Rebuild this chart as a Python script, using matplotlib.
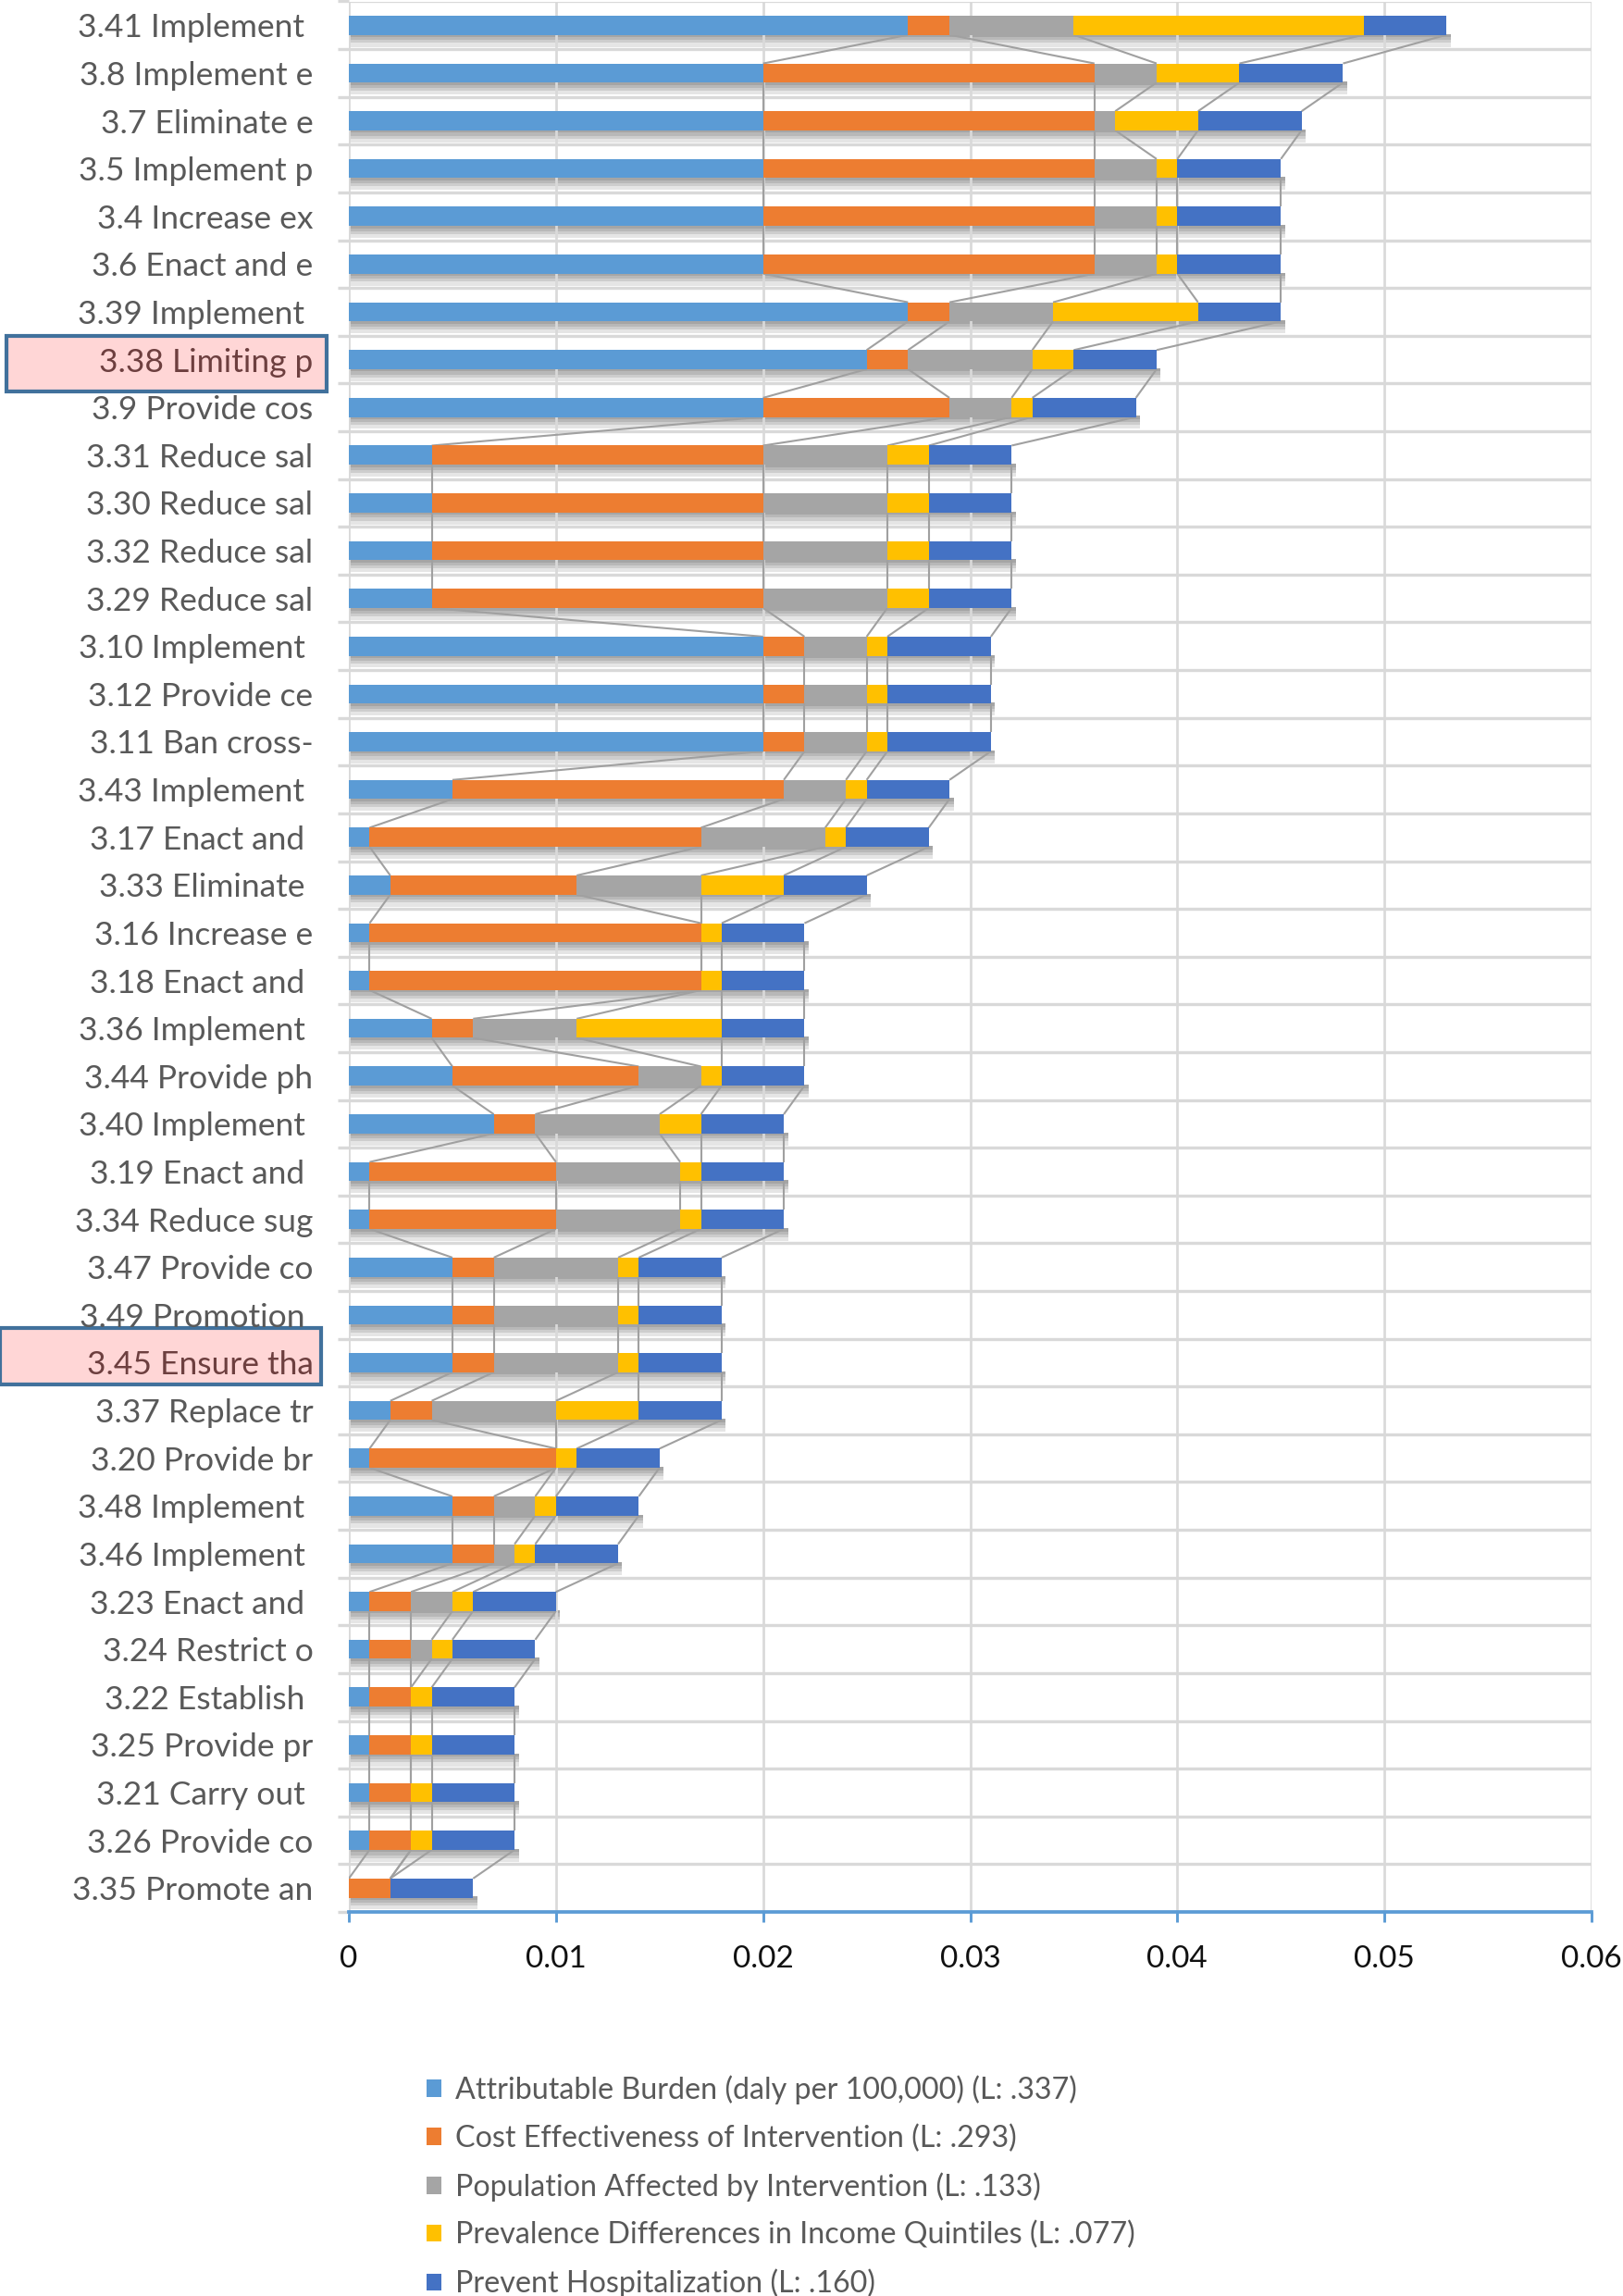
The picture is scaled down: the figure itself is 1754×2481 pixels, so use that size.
import matplotlib
matplotlib.use("Agg")
import matplotlib.pyplot as plt
import numpy as np
from matplotlib.collections import LineCollection
from matplotlib.patches import Rectangle
from matplotlib.transforms import blended_transform_factory

plt.rcParams["font.family"] = ["Lato", "DejaVu Sans"]

# intervention labels, top to bottom (truncated as in the source chart)
labels = [
    "3.41 Implement ", "3.8 Implement e", "3.7 Eliminate e", "3.5 Implement p",
    "3.4 Increase ex", "3.6 Enact and e", "3.39 Implement ", "3.38 Limiting p",
    "3.9 Provide cos", "3.31 Reduce sal", "3.30 Reduce sal", "3.32 Reduce sal",
    "3.29 Reduce sal", "3.10 Implement ", "3.12 Provide ce", "3.11 Ban cross-",
    "3.43 Implement ", "3.17 Enact and ", "3.33 Eliminate ", "3.16 Increase e",
    "3.18 Enact and ", "3.36 Implement ", "3.44 Provide ph", "3.40 Implement ",
    "3.19 Enact and ", "3.34 Reduce sug", "3.47 Provide co", "3.49 Promotion ",
    "3.45 Ensure tha", "3.37 Replace tr", "3.20 Provide br", "3.48 Implement ",
    "3.46 Implement ", "3.23 Enact and ", "3.24 Restrict o", "3.22 Establish ",
    "3.25 Provide pr", "3.21 Carry out ", "3.26 Provide co", "3.35 Promote an",
]

burden = [0.027, 0.020, 0.020, 0.020, 0.020, 0.020, 0.027, 0.025, 0.020, 0.004,
          0.004, 0.004, 0.004, 0.020, 0.020, 0.020, 0.005, 0.001, 0.002, 0.001,
          0.001, 0.004, 0.005, 0.007, 0.001, 0.001, 0.005, 0.005, 0.005, 0.002,
          0.001, 0.005, 0.005, 0.001, 0.001, 0.001, 0.001, 0.001, 0.001, 0.000]
cost = [0.002, 0.016, 0.016, 0.016, 0.016, 0.016, 0.002, 0.002, 0.009, 0.016,
        0.016, 0.016, 0.016, 0.002, 0.002, 0.002, 0.016, 0.016, 0.009, 0.016,
        0.016, 0.002, 0.009, 0.002, 0.009, 0.009, 0.002, 0.002, 0.002, 0.002,
        0.009, 0.002, 0.002, 0.002, 0.002, 0.002, 0.002, 0.002, 0.002, 0.002]
population = [0.006, 0.003, 0.001, 0.003, 0.003, 0.003, 0.005, 0.006, 0.003, 0.006,
              0.006, 0.006, 0.006, 0.003, 0.003, 0.003, 0.003, 0.006, 0.006, 0.000,
              0.000, 0.005, 0.003, 0.006, 0.006, 0.006, 0.006, 0.006, 0.006, 0.006,
              0.000, 0.002, 0.001, 0.002, 0.001, 0.000, 0.000, 0.000, 0.000, 0.000]
prevalence = [0.014, 0.004, 0.004, 0.001, 0.001, 0.001, 0.007, 0.002, 0.001, 0.002,
              0.002, 0.002, 0.002, 0.001, 0.001, 0.001, 0.001, 0.001, 0.004, 0.001,
              0.001, 0.007, 0.001, 0.002, 0.001, 0.001, 0.001, 0.001, 0.001, 0.004,
              0.001, 0.001, 0.001, 0.001, 0.001, 0.001, 0.001, 0.001, 0.001, 0.000]
hospital = [0.004, 0.005, 0.005, 0.005, 0.005, 0.005, 0.004, 0.004, 0.005, 0.004,
            0.004, 0.004, 0.004, 0.005, 0.005, 0.005, 0.004, 0.004, 0.004, 0.004,
            0.004, 0.004, 0.004, 0.004, 0.004, 0.004, 0.004, 0.004, 0.004, 0.004,
            0.004, 0.004, 0.004, 0.004, 0.004, 0.004, 0.004, 0.004, 0.004, 0.004]

series_names = [
    "Attributable Burden (daly per 100,000) (L: .337)",
    "Cost Effectiveness of Intervention (L: .293)",
    "Population Affected by Intervention (L: .133)",
    "Prevalence Differences in Income Quintiles (L: .077)",
    "Prevent Hospitalization (L: .160)",
]
colors = ["#5B9BD5", "#ED7D31", "#A5A5A5", "#FFC000", "#4472C4"]

xticks = [0, 0.01, 0.02, 0.03, 0.04, 0.05, 0.06]
xtick_labels = ["0", "0.01", "0.02", "0.03", "0.04", "0.05", "0.06"]

highlighted = ["3.38 Limiting p", "3.45 Ensure tha"]

vals = np.array([burden, cost, population, prevalence, hospital])
cum = np.cumsum(vals, axis=0)
starts = cum - vals
y = np.arange(len(labels))
bar_h = 0.4

fig = plt.figure(figsize=(1754 / 150, 2481 / 150), dpi=150)
ax = fig.add_axes([377 / 1754, 1 - 2066 / 2481, 1343 / 1754, 2064.5 / 2481])

# soft drop shadow under each bar
totals = cum[-1]
for depth in (0.07, 0.13, 0.19, 0.27):
    ax.barh(y + bar_h / 2 + depth / 2 - 0.02, totals + 0.0002, height=depth,
            color="black", alpha=0.1, linewidth=0, zorder=1)

handles = []
for s in range(5):
    b = ax.barh(y, vals[s], left=starts[s], height=bar_h, color=colors[s],
                linewidth=0, zorder=3, label=series_names[s])
    handles.append(b)

# series lines between consecutive bars
segs = []
for s in range(5):
    for i in range(len(labels) - 1):
        segs.append([(cum[s, i], y[i] + bar_h / 2), (cum[s, i + 1], y[i + 1] - bar_h / 2)])
ax.add_collection(LineCollection(segs, colors="#a0a0a0", linewidths=1.0, zorder=2.5))

ax.set_xlim(0, 0.06)
ax.set_ylim(len(labels) - 0.5, -0.5)

ax.set_xticks(xticks)
ax.set_xticklabels(xtick_labels, fontsize=16, color="#111111")
ax.set_yticks(y)
ax.set_yticklabels(labels, fontsize=17, color="#595959")
ax.set_yticks(np.arange(len(labels) + 1) - 0.5, minor=True)

ax.tick_params(axis="x", direction="out", length=5.5, width=1.4, color="#5B9BD5", pad=12)
ax.tick_params(axis="y", which="major", length=0, pad=18.5)
ax.tick_params(axis="y", which="minor", length=6, width=1.6, color="#d9d9d9")

ax.grid(axis="x", which="major", color="#d9d9d9", linewidth=1.3, zorder=1.5)
ax.grid(axis="y", which="minor", color="#d9d9d9", linewidth=1.6, zorder=1.5)
ax.set_axisbelow("line")

for side in ("top", "right", "left"):
    ax.spines[side].set_visible(False)
ax.spines["bottom"].set_color("#5B9BD5")
ax.spines["bottom"].set_linewidth(1.8)

# highlighted labels
tr = blended_transform_factory(ax.transAxes, ax.transData)
box_spans = {"3.38 Limiting p": (-0.2755, -0.0179, 0.50, 0.66),
             "3.45 Ensure tha": (-0.2810, -0.0220, 0.72, 0.45)}
for lab in highlighted:
    i = labels.index(lab)
    x0, x1, up, down = box_spans[lab]
    ax.add_patch(Rectangle((x0, y[i] - up), x1 - x0, up + down, transform=tr,
                           facecolor="#ffd6d6", edgecolor="#41719c", linewidth=2.0,
                           clip_on=False, zorder=1))
    ax.get_yticklabels()[i].set_color("#6d3f3f")

leg = fig.legend(handles=handles, loc="center left", bbox_to_anchor=(461 / 1754, 1 - 2363 / 2481),
                 frameon=False, fontsize=15.5, handlelength=0.5, handleheight=0.5,
                 handletextpad=0.45, labelspacing=0.66, borderpad=0, borderaxespad=0)
for t in leg.get_texts():
    t.set_color("#595959")

fig.savefig("out.png", dpi=150)
